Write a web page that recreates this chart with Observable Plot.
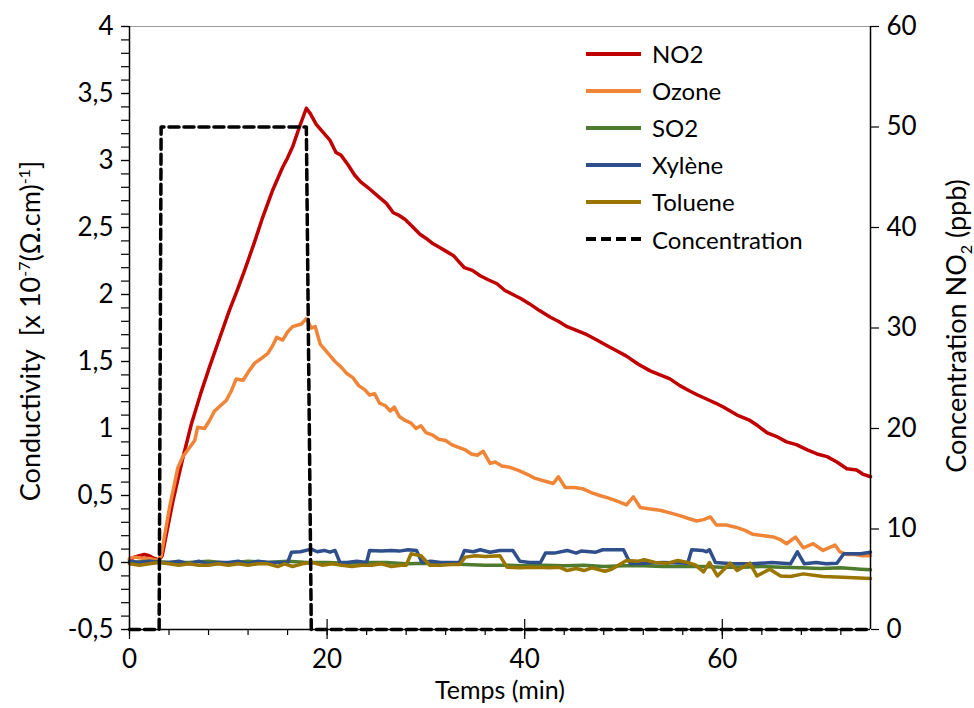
<!DOCTYPE html>
<html>
<head>
<meta charset="utf-8">
<script src="https://cdn.jsdelivr.net/npm/d3@7"></script>
<script src="https://cdn.jsdelivr.net/npm/@observablehq/plot@0.6"></script>
<style>
  html, body { margin: 0; padding: 0; background: #fff; }
  #wrap { position: relative; width: 974px; height: 708px; font-family: Lato, "Open Sans", sans-serif; color: #000; }
  #chart { position: absolute; left: 0; top: 0; }
  .vlabel { position: absolute; white-space: nowrap; line-height: 1; transform: translate(-50%, -50%) rotate(-90deg); }
  .vlabel sup, .vlabel sub { font-size: 16px; line-height: 0; }
  #xlabel { position: absolute; left: 500px; top: 689px; line-height: 1; transform: translate(-50%, -50%); font-size: 25px; white-space: nowrap; }
  #legend { position: absolute; left: 585px; top: 35px; font-size: 24px; }
  .row { display: flex; align-items: center; height: 37.1px; }
  .row svg { margin-right: 10px; }
</style>
</head>
<body>
<div id="wrap">
  <div id="chart"></div>
  <div class="vlabel" style="left:29px; top:331px; font-size:27px;">Conductivity&nbsp; [x 10<sup>-7</sup>(Ω.cm)<sup>-1</sup>]</div>
  <div class="vlabel" style="left:955px; top:326px; font-size:27px;">Concentration NO<sub>2</sub> (ppb)</div>
  <div id="xlabel">Temps (min)</div>
  <div id="legend"></div>
</div>
<script>
// ---- data (time in min, conductivity in 1e-7 (Ω.cm)^-1) ----
const no2 = [[0,0.02],[0.5,0.04],[1,0.05],[1.5,0.06],[2,0.05],[2.5,0.03],[3,0.02],[3.3,0.05],[4.4,0.46],[5.3,0.75],[6.25,1.03],[7.2,1.26],[8.1,1.46],[9.1,1.67],[10.1,1.88],[10.9,2.03],[11.65,2.18],[12.6,2.38],[13.5,2.58],[14.5,2.78],[15.5,2.95],[16.0,3.02],[16.5,3.10],[17.2,3.25],[17.9,3.39],[18.3,3.35],[18.9,3.27],[19.6,3.21],[20.3,3.15],[20.9,3.06],[21.4,3.04],[22.1,2.97],[22.8,2.89],[23.4,2.84],[24.1,2.80],[25.2,2.73],[26.0,2.68],[26.7,2.61],[27.3,2.59],[27.9,2.56],[28.6,2.51],[29.4,2.45],[30.0,2.42],[30.7,2.38],[31.4,2.35],[32.1,2.32],[32.8,2.29],[33.4,2.24],[33.9,2.20],[34.7,2.18],[35.5,2.14],[36.3,2.11],[37.2,2.08],[38.0,2.03],[38.8,2.00],[39.6,1.97],[40.5,1.93],[41.5,1.88],[42.6,1.83],[43.4,1.80],[44.3,1.76],[45.3,1.73],[46.3,1.70],[47.3,1.66],[48.3,1.62],[49.3,1.58],[50.3,1.54],[51.5,1.48],[52.7,1.43],[53.7,1.40],[54.7,1.37],[55.7,1.32],[56.7,1.28],[57.5,1.25],[58.4,1.22],[59.3,1.19],[60.1,1.16],[60.8,1.13],[61.5,1.10],[62.8,1.06],[63.6,1.02],[64.5,0.97],[65.5,0.94],[66.5,0.90],[67.5,0.88],[68.6,0.84],[69.6,0.81],[70.6,0.79],[71.6,0.75],[72.6,0.70],[73.6,0.69],[74.2,0.66],[75,0.64]];
const ozone = [[0,0.03],[0.5,0.04],[1,0.035],[1.5,0.03],[2,0.03],[2.8,0.015],[3.2,0.05],[4.05,0.41],[4.9,0.71],[5.4,0.79],[5.9,0.84],[6.6,0.91],[6.9,1.01],[7.6,1.00],[8.1,1.06],[8.6,1.13],[9.2,1.17],[9.8,1.21],[10.3,1.28],[10.8,1.37],[11.5,1.36],[12.1,1.43],[12.7,1.49],[13.3,1.52],[14.0,1.56],[14.5,1.62],[14.9,1.68],[15.5,1.66],[16.0,1.72],[16.5,1.76],[17.4,1.78],[17.9,1.82],[18.4,1.75],[18.8,1.76],[19.3,1.63],[20.1,1.56],[20.8,1.50],[21.4,1.46],[22.0,1.41],[22.6,1.38],[23.2,1.32],[23.8,1.29],[24.3,1.25],[24.8,1.26],[25.3,1.19],[25.9,1.17],[26.4,1.13],[26.8,1.16],[27.3,1.09],[27.9,1.06],[28.5,1.04],[29.0,1.00],[29.5,1.02],[30.0,0.97],[30.7,0.95],[31.3,0.92],[32.0,0.91],[32.6,0.88],[33.3,0.86],[34.0,0.84],[34.6,0.81],[35.2,0.80],[35.8,0.83],[36.5,0.74],[37.0,0.75],[37.7,0.72],[38.5,0.71],[39.3,0.69],[40.2,0.66],[41.0,0.63],[41.9,0.61],[42.9,0.59],[43.4,0.64],[44.1,0.56],[45.0,0.56],[45.9,0.55],[46.8,0.52],[47.6,0.50],[48.5,0.48],[49.3,0.46],[50.3,0.43],[51.0,0.49],[51.7,0.41],[52.7,0.40],[53.7,0.39],[54.7,0.37],[55.7,0.35],[56.5,0.33],[57.4,0.31],[58.1,0.32],[58.8,0.34],[59.4,0.28],[60.4,0.28],[61.5,0.26],[62.3,0.24],[63.1,0.21],[64.2,0.20],[65.2,0.19],[65.9,0.17],[66.5,0.14],[67.4,0.19],[68.2,0.11],[69.2,0.14],[70.2,0.09],[71.4,0.13],[71.9,0.08],[72.6,0.06],[73.4,0.06],[74.2,0.05],[75,0.05]];
const so2 = [[0,0.0],[2,0.01],[4,0.0],[6,0.0],[8,0.01],[10,-0.005],[12,0.01],[14,0.0],[16,0.01],[18,0.0],[20,0.0],[22,-0.005],[24,0.0],[26,0.0],[28,-0.01],[30,-0.005],[32,-0.01],[34,-0.015],[36,-0.02],[38,-0.02],[40,-0.025],[42,-0.02],[44,-0.025],[46,-0.02],[48,-0.03],[50,-0.025],[52,-0.025],[54,-0.03],[56,-0.03],[58,-0.03],[60,-0.035],[62,-0.035],[64,-0.03],[66,-0.035],[68,-0.04],[70,-0.045],[72,-0.04],[74,-0.05],[75,-0.055]];
const xylene = [[0,0.01],[1,0.0],[2,0.01],[3,0.0],[4,0.0],[5,0.01],[6,-0.01],[7,0.01],[8,-0.01],[9,0.0],[10,0.0],[11,0.01],[12,-0.01],[13,0.01],[14,0.0],[15,0.0],[16.0,0.0],[16.4,0.077],[17.3,0.08],[18.4,0.10],[19.0,0.08],[19.7,0.09],[20.3,0.077],[20.8,0.09],[21.3,0.0],[22,0.0],[23,0.01],[24.0,0.0],[24.3,0.09],[25.5,0.085],[26.5,0.09],[27.3,0.085],[28.2,0.095],[29.05,0.09],[29.6,0.0],[30.5,0.01],[31.5,0.0],[32.5,0.0],[33.4,0.0],[33.9,0.09],[34.8,0.08],[35.5,0.095],[36.5,0.077],[37.5,0.09],[38.8,0.09],[39.5,0.01],[40.5,0.0],[41.6,0.0],[42.1,0.07],[43.0,0.07],[44.3,0.09],[45.2,0.07],[45.7,0.085],[47.2,0.077],[47.9,0.095],[49.0,0.095],[50.0,0.095],[50.7,-0.01],[52,-0.005],[54,0.0],[56.5,-0.005],[56.9,0.095],[58.0,0.09],[58.4,0.08],[58.7,0.095],[59.3,0.0],[61,-0.01],[63,-0.01],[65,0.0],[66.9,-0.01],[67.6,0.08],[68.3,-0.01],[69.5,0.0],[70.5,-0.01],[71.6,-0.005],[72.3,0.065],[74,0.065],[75,0.077]];
const toluene = [[0,-0.01],[1,-0.02],[2,-0.01],[3,0.0],[4,-0.01],[5,-0.02],[6,-0.01],[7,-0.02],[8,-0.02],[9,-0.01],[10,-0.02],[11,-0.01],[12,-0.02],[13,-0.01],[14,-0.01],[15,-0.03],[15.7,-0.01],[16.5,-0.03],[17.5,-0.01],[18.5,0.0],[19.5,-0.02],[20.5,-0.01],[21.5,-0.02],[22.5,-0.03],[23.5,-0.02],[24.5,-0.02],[25.5,-0.01],[26.5,-0.03],[27.5,-0.02],[28.0,-0.02],[28.5,0.065],[29.5,0.05],[30.4,-0.02],[31.5,-0.02],[32.5,-0.015],[33.4,-0.015],[34.0,0.04],[35.0,0.05],[36.0,0.045],[37.5,0.05],[38.2,-0.035],[39.5,-0.04],[41,-0.035],[42.5,-0.04],[43.5,-0.035],[44.3,-0.06],[45.2,-0.045],[46,-0.06],[46.8,-0.04],[48.1,-0.065],[48.8,-0.05],[50.3,0.015],[51.5,0.01],[52.1,0.02],[53.2,0.0],[54.5,-0.005],[55.5,0.015],[56.5,0.0],[57.3,-0.02],[58.1,-0.07],[58.7,0.0],[59.5,-0.10],[60.8,-0.005],[61.5,-0.06],[62.8,-0.005],[63.5,-0.10],[64.8,-0.05],[65.9,-0.10],[66.9,-0.105],[68.2,-0.085],[70.2,-0.105],[72.2,-0.11],[75,-0.12]];
// concentration NO2 in ppb (right axis)
const concentration = [[0,0],[3.0,0],[3.2,50],[17.9,50],[18.4,0],[75,0]];

const seriesNames = ["NO2","Ozone","SO2","Xylène","Toluene","Concentration"];
const seriesColors = ["#C00000","#F08538","#4E7B2E","#2E4F8C","#9A7500","#000000"];
const leftTicks = d3.range(-5, 41, 5).map(i => i / 10);
const leftMinor = d3.range(-5, 41).map(i => i / 10);
const rightTicks = d3.range(0, 61, 10);
const xTicks = [0, 20, 40, 60];
const xMinor = d3.range(0, 76, 4);

// right axis (0..60 ppb) shares the left scale (-0.5..4)
const toLeft = c => -0.5 + c * 4.5 / 60;
const toRight = v => (v + 0.5) * 60 / 4.5;

const seriesData = [no2, ozone, so2, xylene, toluene];
const lineMarks = seriesData.map((s, i) =>
  Plot.line(s, {x: d => d[0], y: d => d[1], stroke: seriesColors[i], strokeWidth: 3.5, curve: "linear"}));

const fmt = v => String(Math.round(v * 10) / 10).replace(".", ",");

const chart = Plot.plot({
  width: 974, height: 708,
  marginLeft: 129, marginRight: 104, marginTop: 26, marginBottom: 79,
  x: {domain: [0, 75]},
  y: {domain: [-0.5, 4]},
  style: {fontFamily: "Lato, 'Open Sans', sans-serif", fontSize: "25px", color: "#000", background: "#fff", overflow: "visible"},
  marks: [
    Plot.ruleY([4], {stroke: "#9a9a9a", strokeWidth: 1}),
    ...lineMarks,
    Plot.line(concentration, {x: d => d[0], y: d => toLeft(d[1]), stroke: "#000", strokeWidth: 3.5, strokeDasharray: "10,5"}),
    Plot.ruleX([0], {stroke: "#000", strokeWidth: 1.5}),
    Plot.ruleX([75], {stroke: "#000", strokeWidth: 1.5}),
    Plot.ruleY([-0.5], {stroke: "#000", strokeWidth: 1.5}),
    Plot.axisY(leftMinor, {anchor: "left", tickSize: 8, tickFormat: () => "", label: null, strokeWidth: 1.2}),
    Plot.axisY(leftTicks, {anchor: "left", tickSize: 8, tickPadding: 8, tickFormat: fmt, label: null, fontSize: 26, strokeWidth: 1.2}),
    Plot.axisY(rightTicks.map(toLeft), {anchor: "right", tickSize: 8, tickPadding: 8, tickFormat: v => String(Math.round(toRight(v))), label: null, fontSize: 26, strokeWidth: 1.2}),
    Plot.axisX(xMinor, {anchor: "bottom", tickSize: 6, tickFormat: () => "", label: null, strokeWidth: 1.2}),
    Plot.axisX(xTicks, {anchor: "bottom", tickSize: 20, dy: -10, tickFormat: () => "", label: null, strokeWidth: 1.2}),
    Plot.axisX(xTicks, {anchor: "bottom", tickSize: 0, tickPadding: 20, tickFormat: d => String(d), label: null, fontSize: 26})
  ]
});
document.getElementById("chart").appendChild(chart);

// legend
const legend = document.getElementById("legend");
seriesNames.forEach((name, i) => {
  const row = document.createElement("div");
  row.className = "row";
  const dash = name === "Concentration" ? 'stroke-dasharray="10,5"' : "";
  row.innerHTML = `<svg width="57" height="8"><line x1="1" y1="4" x2="56" y2="4" stroke="${seriesColors[i]}" stroke-width="4" ${dash}/></svg><span>${name}</span>`;
  legend.appendChild(row);
});
</script>
</body>
</html>
